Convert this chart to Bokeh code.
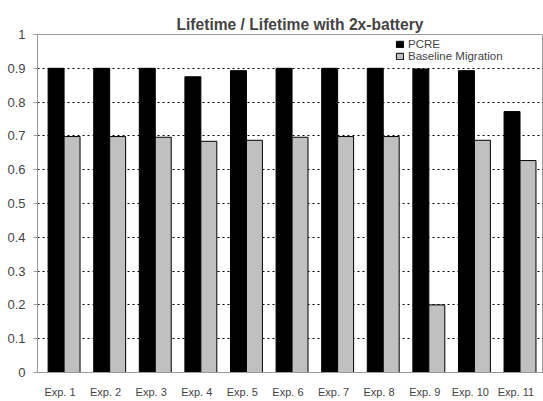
from bokeh.plotting import figure
from bokeh.models import Range1d, FixedTicker, NumeralTickFormatter, Legend, LegendItem
from bokeh.embed import file_html
from bokeh.resources import INLINE

categories = ["Exp. 1", "Exp. 2", "Exp. 3", "Exp. 4", "Exp. 5", "Exp. 6",
              "Exp. 7", "Exp. 8", "Exp. 9", "Exp. 10", "Exp. 11"]
pcre = [0.900, 0.900, 0.900, 0.875, 0.893, 0.900, 0.900, 0.900, 0.898, 0.893, 0.772]
baseline = [0.698, 0.698, 0.696, 0.684, 0.687, 0.696, 0.698, 0.698, 0.200, 0.687, 0.627]
y_ticks = [0, 0.1, 0.2, 0.3, 0.4, 0.5, 0.6, 0.7, 0.8, 0.9, 1.0]
grid_ticks = [0.1, 0.2, 0.3, 0.4, 0.5, 0.6, 0.7, 0.8, 0.9]
title_text = "Lifetime / Lifetime with 2x-battery"

FONT = "Liberation Sans"
idx = list(range(len(categories)))
bw = 0.35
label_shift = -0.09

p = figure(width=543, height=401, x_range=Range1d(-0.583, 10.515), y_range=Range1d(0, 1),
           output_backend="svg", toolbar_location=None,
           min_border_left=37, min_border_right=0, min_border_top=34, min_border_bottom=29)
p.background_fill_color = "white"
p.border_fill_color = "white"
p.outline_line_color = "#9a9a9a"

p.title.text = title_text
p.title.text_font = FONT
p.title.text_font_size = "15.6px"
p.title.text_font_style = "bold"
p.title.align = "left"
p.title.offset = 139
p.title.standoff = 4

r1 = p.vbar(x=[i - bw / 2 for i in idx], top=pcre, width=bw, bottom=0,
            fill_color="black", line_color="black", line_width=1)
r2 = p.vbar(x=[i + bw / 2 for i in idx], top=baseline, width=bw, bottom=0,
            fill_color="#c0c0c0", line_color="black", line_width=1)

# axes
tick_pos = [i + label_shift for i in idx]
p.xaxis.ticker = FixedTicker(ticks=tick_pos)
p.xaxis.major_label_overrides = {t: c for t, c in zip(tick_pos, categories)}
p.xaxis.major_tick_line_color = None
p.xaxis.major_tick_out = 0
p.xaxis.major_tick_in = 0
p.xaxis.minor_tick_line_color = None
p.xaxis.axis_line_color = "#9a9a9a"
p.xaxis.major_label_text_font = FONT
p.xaxis.major_label_text_font_size = "11px"
p.xaxis.major_label_standoff = 13

p.yaxis.ticker = FixedTicker(ticks=y_ticks)
p.yaxis.formatter = NumeralTickFormatter(format="0.[0]")
p.yaxis.axis_line_color = "#9a9a9a"
p.yaxis.major_tick_line_color = "#9a9a9a"
p.yaxis.major_tick_out = 4
p.yaxis.major_tick_in = 0
p.yaxis.minor_tick_line_color = None
p.yaxis.major_label_text_font = FONT
p.yaxis.major_label_text_font_size = "13px"
p.yaxis.major_label_standoff = 8

p.xgrid.grid_line_color = None
p.ygrid.ticker = FixedTicker(ticks=grid_ticks)
p.ygrid.grid_line_color = "black"
p.ygrid.grid_line_dash = "2 3"
p.ygrid.grid_line_width = 1


def make_legend(label, renderer, y):
    lg = Legend(items=[LegendItem(label=label, renderers=[renderer])], location=(358, y))
    lg.border_line_color = None
    lg.background_fill_alpha = 0
    lg.padding = 0
    lg.margin = 0
    lg.spacing = 0
    lg.label_height = 10
    lg.glyph_height = 8
    lg.glyph_width = 9
    lg.label_standoff = 4
    lg.label_text_font = FONT
    lg.label_text_font_size = "11.5px"
    return lg


p.add_layout(make_legend("PCRE", r1, 322))
p.add_layout(make_legend("Baseline Migration", r2, 310))

open("out.html", "w").write(file_html(p, INLINE))
